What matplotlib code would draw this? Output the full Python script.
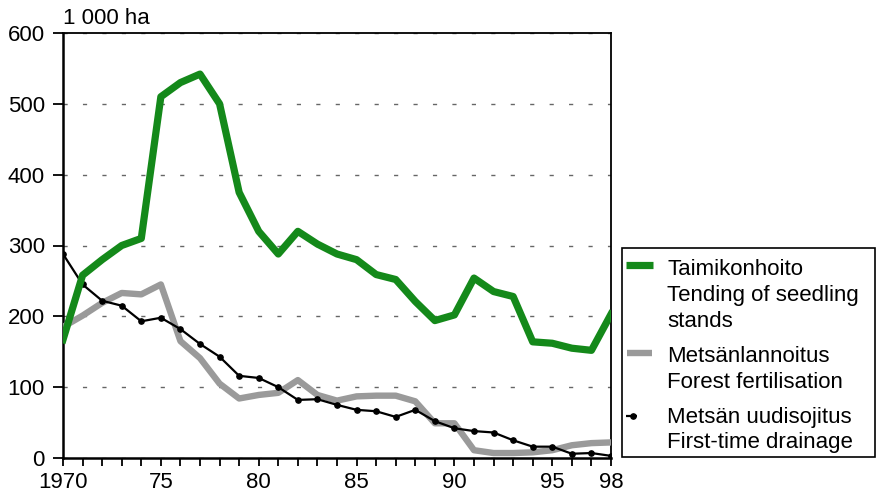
import matplotlib
matplotlib.use("Agg")
import matplotlib.pyplot as plt
from matplotlib.lines import Line2D
from matplotlib.patches import Rectangle

plt.rcParams['font.family'] = ['Liberation Sans', 'DejaVu Sans']

years = list(range(1970, 1999))
tending = [167, 258, 280, 300, 310, 510, 530, 542, 500, 375, 320, 288, 320, 302, 288,
           280, 259, 252, 221, 194, 202, 254, 235, 228, 164, 162, 155, 152, 203]
fertilisation = [185, 201, 219, 233, 231, 245, 165, 141, 105, 84, 89, 92, 110, 89, 81,
                 87, 88, 88, 80, 49, 49, 11, 7, 7, 8, 11, 18, 21, 22]
drainage = [288, 245, 222, 215, 193, 198, 182, 161, 143, 116, 113, 100, 82, 83, 75,
            68, 66, 58, 68, 52, 42, 38, 36, 25, 16, 16, 6, 7, 3]

xtick_vals = [1970, 1975, 1980, 1985, 1990, 1995, 1998]
xtick_labels = ['1970', '75', '80', '85', '90', '95', '98']
ytick_vals = [0, 100, 200, 300, 400, 500, 600]
unit_label = '1 000 ha'
legend_entries = [
    ['Taimikonhoito', 'Tending of seedling', 'stands'],
    ['Metsänlannoitus', 'Forest fertilisation'],
    ['Metsän uudisojitus', 'First-time drainage'],
]

W, H = 877, 495
green = '#14891a'
grey = '#9a9a9a'

fig = plt.figure(figsize=(W / 100, H / 100), dpi=100)
ax = fig.add_axes([63 / W, 1 - 458 / H, (611 - 63) / W, (458 - 33) / H])

ax.plot(years, fertilisation, color=grey, lw=4.6, solid_joinstyle='round', solid_capstyle='round', zorder=3)
ax.plot(years, drainage, color='black', lw=1.6, marker='o', ms=3.8, zorder=4)
ax.plot(years, tending, color=green, lw=5.2, solid_joinstyle='round', zorder=5)

ax.set_xlim(1970, 1998)
ax.set_ylim(0, 600)
ax.set_xticks(years, minor=True)
ax.set_xticks(xtick_vals)
ax.set_xticklabels(xtick_labels)
ax.set_yticks(ytick_vals)
ax.tick_params(axis='both', which='both', direction='out', labelsize=16, width=1.3, color='black')
ax.tick_params(axis='x', which='both', length=6, pad=4)
ax.tick_params(axis='y', length=7, pad=6)
ax.yaxis.grid(True, color='#666666', lw=1.0, linestyle=(0, (3, 11)))
ax.set_axisbelow(True)
for s in ['left', 'bottom']:
    ax.spines[s].set_linewidth(1.8)
for s in ['top', 'right']:
    ax.spines[s].set_linewidth(1.3)

fig.text(63 / W, 1 - 24 / H, unit_label, fontsize=16, va='baseline', ha='left')

# legend box (figure pixel coords)
def fx(px):
    return px / W

def fy(py):
    return 1 - py / H

fig.add_artist(Rectangle((fx(622), fy(457)), fx(875) - fx(622), fy(248) - fy(457),
                         transform=fig.transFigure, fill=False, edgecolor='black', lw=1.2))
handle_y = [265, 353, 416]
baselines = [[275, 301, 327], [362, 388], [423, 448]]
styles = [dict(color=green, lw=5.2), dict(color=grey, lw=4.6), dict(color='black', lw=1.6)]
hx = [(626, 653), (627, 652), (626, 637)]
for i, entry in enumerate(legend_entries):
    x0, x1 = hx[i]
    fig.add_artist(Line2D([fx(x0), fx(x1)], [fy(handle_y[i])] * 2, transform=fig.transFigure,
                          solid_capstyle='butt', **styles[i]))
    if i == 2:
        fig.add_artist(Line2D([fx(633)], [fy(handle_y[i])], transform=fig.transFigure,
                              marker='o', ms=3.8, color='black'))
    for line, b in zip(entry, baselines[i]):
        fig.text(fx(667), fy(b), line, fontsize=16, va='baseline', ha='left')

fig.savefig('out.png', dpi=100)
